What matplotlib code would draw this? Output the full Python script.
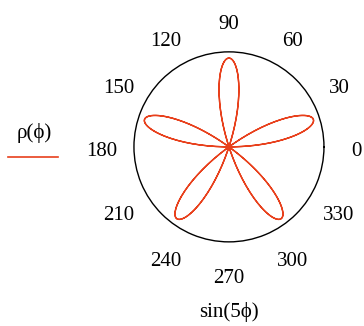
import numpy as np
import matplotlib.pyplot as plt

# plotted function: rho(phi) = sin(5 phi)
petals = 5
amplitude = 1.0
r_max = 1.07
angle_ticks = [0, 30, 60, 90, 120, 150, 180, 210, 240, 270, 300, 330]
tick_labels = [str(a) for a in angle_ticks]
legend_label = "ρ(ϕ)"
axis_label = "sin(5ϕ)"

phi = np.linspace(0, 2 * np.pi, 1000)
rho = amplitude * np.sin(petals * phi)

plt.rcParams['font.family'] = ['Liberation Serif', 'DejaVu Serif']

fig = plt.figure(figsize=(3.64, 3.26), dpi=100)
ax = fig.add_axes([0.368, 0.258, 0.522, 0.583], projection='polar')

# negative radii are drawn on the opposite side, as Mathcad does
theta = np.where(rho < 0, phi + np.pi, phi)
ax.plot(theta, np.abs(rho), color='#e8401c', lw=1.0)

ax.set_ylim(0, r_max)
ax.set_yticks([])
ax.set_xticks([])
ax.grid(False)
ax.spines['polar'].set_linewidth(1.0)
ax.spines['polar'].set_color('black')

# angle labels: ~32 px outside the circle, nudged down a little like Mathcad
extra = 32
for a, lab in zip(angle_ticks, tick_labels):
    t = np.deg2rad(a)
    ax.annotate(lab, xy=(t, r_max), xytext=(extra * np.cos(t), extra * np.sin(t) - 5),
                textcoords='offset pixels', ha='center', va='center',
                fontsize=15, annotation_clip=False)

fig.text(0.629, 0.012, axis_label, ha='center', va='bottom', fontsize=15)
fig.text(0.095, 0.592, legend_label, ha='center', va='center', fontsize=15)
fig.add_artist(plt.Line2D([8 / 364, 58 / 364], [1 - 157 / 326, 1 - 157 / 326],
                          color='#e8401c', lw=1.2))

fig.savefig('out.png', dpi=100)
